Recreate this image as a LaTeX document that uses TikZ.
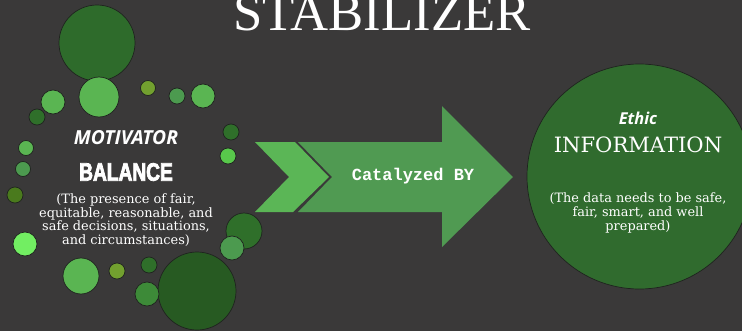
\documentclass[tikz,border=0pt]{standalone}
\usepackage{fontspec}
\setmainfont{DejaVu Serif}
\newfontfamily\titlefont{Liberation Serif}
\newfontfamily\headfont{Open Sans}
\newfontfamily\blockfont[FakeStretch=0.76,FakeBold=3]{Liberation Sans}
\newfontfamily\codefont{Liberation Mono}
\usetikzlibrary{positioning}

\definecolor{bg}{HTML}{3A3939}
\definecolor{rim}{HTML}{1F231F}
\definecolor{gdark}{HTML}{2E6B2B}
\definecolor{gdeep}{HTML}{275A22}
\definecolor{glight}{HTML}{5AB552}
\definecolor{gmid}{HTML}{4C9A4F}
\definecolor{gforest}{HTML}{2F6F2A}
\definecolor{gfern}{HTML}{3D8A38}
\definecolor{golive}{HTML}{72A02F}
\definecolor{gmoss}{HTML}{4A7A1D}
\definecolor{gbright}{HTML}{72EE62}
\definecolor{glime}{HTML}{58C84B}
\definecolor{chev}{HTML}{5BB656}
\definecolor{shaft}{HTML}{509A52}
\definecolor{infofill}{HTML}{306B2E}

\tikzset{
  blob/.style={draw=rim, line width=0.6pt},
  note/.style={text=white, align=center, font=\fontsize{11}{11.6}\selectfont},
}

\begin{document}
\begin{tikzpicture}[x=0.03cm, y=-0.03cm]
      \useasboundingbox (0, 0) rectangle (742, 331);
      \fill[bg] (0, 0) rectangle (742, 331);
      % bubbles round the motivator
      \foreach \cx/\cy/\r/\c in {97/43/38/gdark, 197/291/39/gdeep,
          99/97/20/glight, 53/102/12/glight, 37/117/8/gforest,
          148/88/7.5/golive, 177/96/8/gmid, 203/96/12/glight,
          231/132/8/gforest, 228/156/8/glime, 26/148/7.5/glight,
          23/169/7.5/gmid, 15/195/8/gmoss, 25/244/12/gbright,
          244/231/18/gforest, 232/248/12/gmid, 81/276/18/glight,
          117/271/8/golive, 149/265/8/gforest, 147/294/12/gfern}
        \filldraw[blob, fill=\c] (\cx, \cy) circle (\r);
      \node[text=white, font=\headfont\bfseries\itshape\fontsize{16.5}{18}\selectfont] (motive) at (126, 138) {MOTIVATOR};
      \node[text=white, font=\blockfont\bfseries\fontsize{21.5}{22}\selectfont] (balance) at (126, 172) {BALANCE};
      \node[note] (balnote) at (126, 220) {(The presence of fair,\\equitable, reasonable, and\\safe decisions, situations,\\and circumstances)};
      % chevron and arrow
      \fill[chev] (255, 142) -- (295, 142) -- (329, 177) -- (293, 212) -- (255, 212) -- (289, 177) -- cycle;
      \fill[shaft] (298, 142) -- (442, 142) -- (442, 106) -- (513, 177) -- (442, 247) -- (442, 212)
        -- (298, 212) -- (332, 177) -- cycle;
      \node[text=white, font=\codefont\bfseries\fontsize{14.5}{16}\selectfont] (catalyst) at (413, 176) {Catalyzed BY};
      % information circle
      \node[circle, draw=rim, line width=0.6pt, fill=infofill, minimum size=6.75cm] (info) at (639.5, 176.5) {};
      \node[text=white, font=\headfont\bfseries\itshape\fontsize{14}{16}\selectfont] (ethic) at (638, 118) {Ethic};
      \node[text=white, font=\fontsize{18}{20}\selectfont] (infohead) at (638, 145) {INFORMATION};
      \node[note] (infonote) at (638, 213) {(The data needs to be safe,\\fair, smart, and well\\prepared)};
      \node[text=white, font=\titlefont\fontsize{45}{48}\selectfont, anchor=base] (title) at (382, 30) {STABILIZER};
\end{tikzpicture}
\end{document}
